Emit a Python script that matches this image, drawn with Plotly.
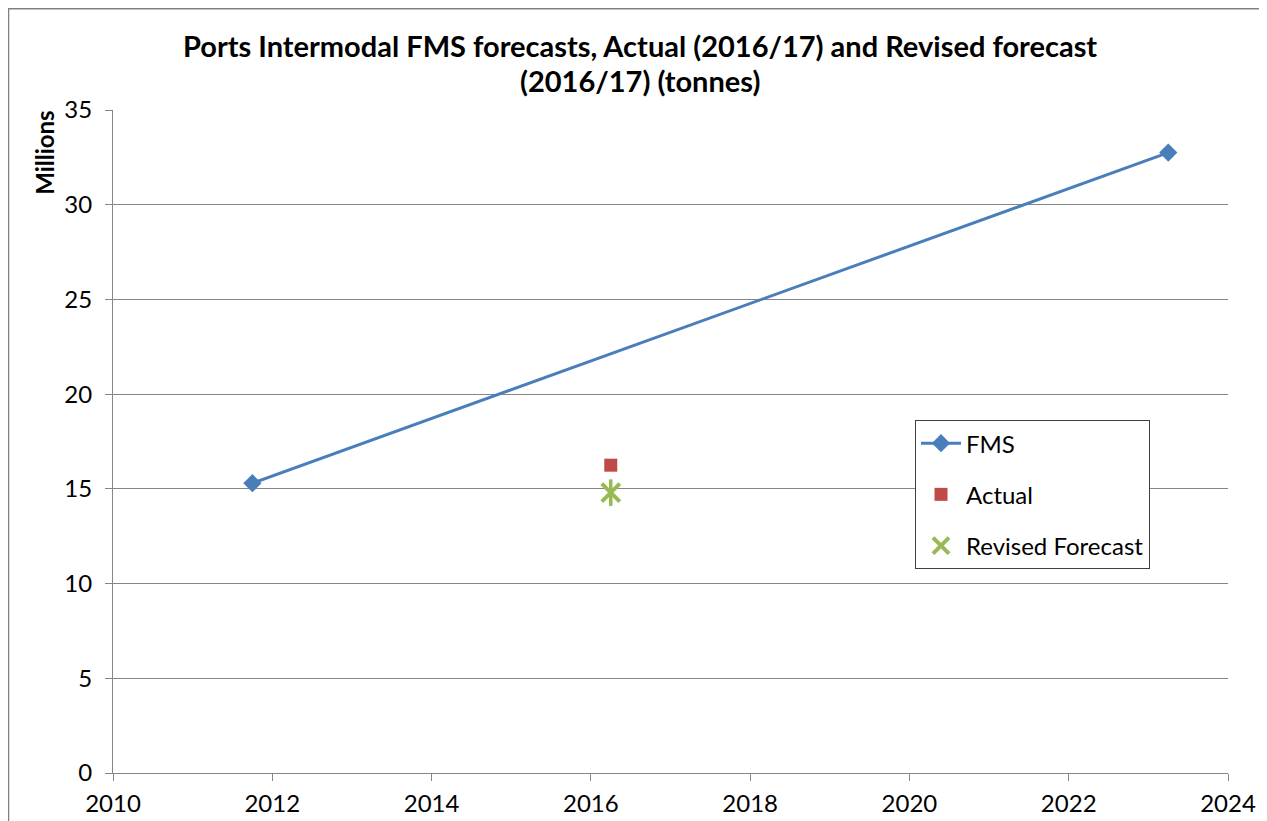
import plotly.graph_objects as go

# Data
fms_years = [2011.75, 2023.25]
fms_values = [15.3, 32.75]
actual_years = [2016.25]
actual_values = [16.25]
revised_years = [2016.25]
revised_values = [14.8]
x_ticks = [2010, 2012, 2014, 2016, 2018, 2020, 2022, 2024]
y_ticks = [0, 5, 10, 15, 20, 25, 30, 35]

FONT = "Lato"
W, H = 1267, 821
OFF = 8  # page body margin offset
# plot area in window coords: x 113..1228, y 110..775
PX0, PX1, PY0, PY1 = 113, 1228, 110, 775
L = PX0 - OFF
R = W - (PX1 - OFF)
T = PY0 - OFF
B = H - (PY1 - OFF)

fig = go.Figure()
fig.add_trace(go.Scatter(
    x=fms_years, y=fms_values, mode="lines+markers", name="FMS",
    line=dict(color="#4A7EBB", width=3),
    marker=dict(symbol="diamond", size=14, color="#4A7EBB"),
    legendgroup="a"))
fig.add_trace(go.Scatter(
    x=actual_years, y=actual_values, mode="markers", name="Actual",
    marker=dict(symbol="square", size=13, color="#BE4B48"),
    legendgroup="b"))
fig.add_trace(go.Scatter(
    x=revised_years, y=revised_values, mode="markers", name="Revised Forecast",
    marker=dict(symbol="x-thin-open", size=18, color="#98B954",
                line=dict(color="#98B954", width=4)),
    legendgroup="c"))
fig.add_trace(go.Scatter(
    x=revised_years, y=revised_values, mode="markers", showlegend=False,
    marker=dict(symbol="line-ns-open", size=19, color="#98B954",
                line=dict(color="#98B954", width=3.5)),
    legendgroup="c", hoverinfo="skip"))

pw = PX1 - PX0
ph = PY1 - PY0

def px_x(p):
    return (p - PX0) / pw

def px_y(p):
    return (PY1 - p) / ph

fig.update_layout(
    width=W, height=H,
    margin=dict(l=L, r=R, t=T, b=B),
    paper_bgcolor="white", plot_bgcolor="white",
    font=dict(family=FONT, size=24, color="#000000"),
    showlegend=True,
    legend=dict(
        x=px_x(915), y=px_y(421), xanchor="left", yanchor="top",
        bordercolor="#404040", borderwidth=1, bgcolor="white",
        font=dict(family=FONT, size=24),
        tracegroupgap=17, itemwidth=40,
    ),
    xaxis=dict(
        range=[2010, 2024], tickvals=x_ticks, ticktext=[str(v) for v in x_ticks],
        showgrid=False, zeroline=False, showline=True, linecolor="#868686", linewidth=1,
        ticks="outside", ticklen=7, tickcolor="#868686",
        tickfont=dict(family=FONT, size=24), ticklabelstandoff=2,
    ),
    yaxis=dict(
        range=[0, 35], tickvals=y_ticks,
        showgrid=True, gridcolor="#868686", gridwidth=1, zeroline=False,
        showline=True, linecolor="#868686", linewidth=1,
        ticks="outside", ticklen=7, tickcolor="#868686",
        tickfont=dict(family=FONT, size=24), ticklabelstandoff=8,
    ),
)

fig.add_annotation(text="<b>Ports Intermodal FMS forecasts, Actual (2016/17) and Revised forecast</b>",
                   xref="paper", yref="paper", x=px_x(640), y=px_y(45),
                   showarrow=False, font=dict(family=FONT, size=29), xanchor="center", yanchor="middle")
fig.add_annotation(text="<b>(2016/17) (tonnes)</b>",
                   xref="paper", yref="paper", x=px_x(640), y=px_y(80),
                   showarrow=False, font=dict(family=FONT, size=29), xanchor="center", yanchor="middle")
fig.add_annotation(text="<b>Millions</b>", textangle=-90,
                   xref="paper", yref="paper", x=px_x(45), y=px_y(153),
                   showarrow=False, font=dict(family=FONT, size=24), xanchor="center", yanchor="middle")

fig.add_shape(type="rect", xref="paper", yref="paper",
              x0=px_x(OFF + 0.5), x1=px_x(1265), y0=px_y(850), y1=px_y(OFF + 0.5),
              line=dict(color="#808080", width=1.5), fillcolor="rgba(0,0,0,0)", layer="below")

fig.write_html("out.html")
